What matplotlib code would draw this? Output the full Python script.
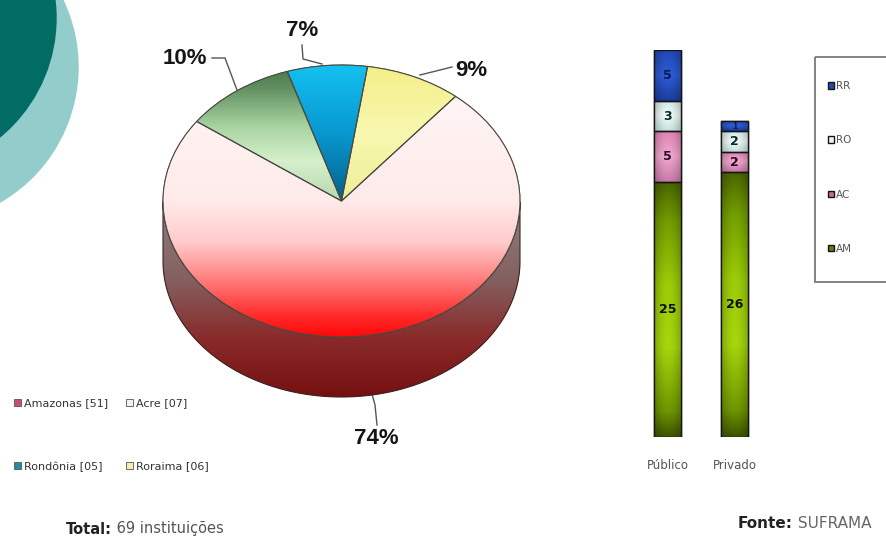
import numpy as np
import matplotlib
matplotlib.use("Agg")
import matplotlib.pyplot as plt
from matplotlib.colors import LinearSegmentedColormap
from matplotlib.patches import Circle, Rectangle, Polygon

# ---------------- data ----------------
pie_labels = ["Amazonas [51]", "Acre [07]", "Rondônia [05]", "Roraima [06]"]
pie_counts = [51, 7, 5, 6]

bar_categories = ["Público", "Privado"]
bar_series = ["AM", "AC", "RO", "RR"]
am_values = [25, 26]
ac_values = [5, 2]
ro_values = [3, 2]
rr_values = [5, 1]

total_prefix = "Total:"
total_text = "69 instituições"
source_prefix = "Fonte:"
source_text = "SUFRAMA"

# ---------------- figure ----------------
W, H = 886, 540
fig = plt.figure(figsize=(W / 100, H / 100), dpi=100)
fig.patch.set_facecolor("white")


def px_axes(left, top, width, height):
    return fig.add_axes([left / W, 1 - (top + height) / H, width / W, height / H])


def grad_image(ax, stops, extent, clip, zorder, shade=None, n=256):
    cmap = LinearSegmentedColormap.from_list("g", stops)
    col = cmap(np.linspace(1, 0, n))[:, :3]
    if shade is None:
        img = np.repeat(col[:, None, :], 2, axis=1)
    else:
        img = col[:, None, :] * shade[None, :, None]
    im = ax.imshow(np.clip(img, 0, 1), extent=extent, origin="upper",
                   aspect="auto", interpolation="bilinear", zorder=zorder)
    im.set_clip_path(clip)
    return im


# background decoration (pixel coordinates)
bg = fig.add_axes([0, 0, 1, 1])
bg.set_xlim(0, W)
bg.set_ylim(H, 0)
bg.axis("off")
bg.add_patch(Circle((-78, 67), 156, color="#93cdcb", zorder=1))
bg.add_patch(Circle((-98, 18), 154, color="#006c64", zorder=2))

# ---------------- 3D-looking pie ----------------
CX, CY, RX, RY, DEPTH_PX = 341.5, 201, 178.5, 136, 60
depth = DEPTH_PX / RY
pad = 0.1
pax = px_axes(CX - (1 + pad) * RX, CY - (1 + pad) * RY,
              2 * (1 + pad) * RX, (2 + 2 * pad + depth) * RY)

start = 50.3
base_colors = ["#c8506e", "#eef6ec", "#2a8ca4", "#f2eeb0"]
top_stops = [
    [(0, "#ff0808"), (0.075, "#ff2a2a"), (0.2, "#ff7878"), (0.35, "#ffcccc"),
     (0.5, "#ffeaea"), (1, "#fff8f8")],
    [(0, "#b8d8b0"), (0.5, "#b8d8b0"), (0.65, "#d4f0cc"), (0.775, "#a8d4a0"),
     (0.925, "#5e8c5e"), (1, "#4a784a")],
    [(0, "#06608c"), (0.5, "#06608c"), (0.75, "#0898d0"), (1, "#14c0f0")],
    [(0, "#eeee98"), (0.5, "#eeee98"), (0.75, "#f8f8b0"), (1, "#f4ee88")],
]
side_stops = [
    [(0, "#761010"), (0.3, "#8a2a2a"), (0.6, "#846060"), (1, "#8e8080")],
    [(0, "#3e5e3e"), (1, "#6e8e6e")],
    [(0, "#04405e"), (1, "#0a6a90")],
    [(0, "#9a9a50"), (1, "#c0c080")],
]

wedges, _ = pax.pie(pie_counts, colors=base_colors, startangle=start,
                    counterclock=False,
                    wedgeprops=dict(edgecolor="#555555", linewidth=0.6))

# side band of each wedge (visible lower half only)
for i, w in enumerate(wedges):
    t = np.linspace(w.theta1, w.theta2, 400)
    m = np.sin(np.radians(t)) < 0
    if not m.any():
        continue
    tt = np.radians(t[m])
    xs, ys = np.cos(tt), np.sin(tt)
    pts = np.concatenate([np.c_[xs, ys], np.c_[xs[::-1], ys[::-1] - depth]])
    poly = Polygon(pts, closed=True, facecolor=side_stops[i][0][1],
                   edgecolor="none", zorder=0.5)
    pax.add_patch(poly)
    grad_image(pax, side_stops[i], (-1, 1, -1 - depth, 0), poly, 0.6)
    pax.add_patch(Polygon(pts, closed=True, fill=False, edgecolor="#3a2626",
                          linewidth=0.8, zorder=0.7))

for i, w in enumerate(wedges):
    grad_image(pax, top_stops[i], (-1, 1, -1, 1), w, 1.5)

pax.pie(pie_counts, startangle=start, counterclock=False,
        colors=["none"] * len(pie_counts),
        wedgeprops=dict(fill=False, edgecolor="#4a4a40", linewidth=0.8, zorder=3))
pax.set_aspect("auto")
pax.set_xlim(-1 - pad, 1 + pad)
pax.set_ylim(-1 - depth - pad, 1 + pad)
pax.axis("off")

# percentage labels with leader lines (pixel coordinates)
total = sum(pie_counts)
pcts = [round(100 * c / total) for c in pie_counts]
label_pos = [(376, 439), (185, 58), (302, 30), (471, 71)]
leaders = [
    [(372, 394), (375, 405), (377, 425)],
    [(212, 58), (225, 58), (237, 90)],
    [(302, 45), (303, 59), (322, 64)],
    [(452, 67), (420, 75)],
]
for p, pos, ld in zip(pcts, label_pos, leaders):
    bg.text(pos[0], pos[1], f"{p}%", ha="center", va="center", fontsize=16,
            fontweight="bold", family="Liberation Sans", color="#151515", zorder=5)
    lx, ly = zip(*ld)
    bg.plot(lx, ly, color="#555555", linewidth=1.0, zorder=4)

order = [0, 2, 1, 3]
pleg = bg.legend([wedges[i] for i in order], [pie_labels[i] for i in order],
                 ncol=2, loc="upper left", bbox_to_anchor=(14 / W, 1 - 398 / H),
                 bbox_transform=fig.transFigure, frameon=False, fontsize=8,
                 handlelength=0.6, handleheight=0.6, handletextpad=0.3,
                 labelspacing=4.8, columnspacing=1.6, borderpad=0, borderaxespad=0)
for t in pleg.get_texts():
    t.set_color("#333333")

# ---------------- stacked bars ----------------
bax = px_axes(634, 50, 134, 387)
x = np.arange(len(bar_categories))
bw = 0.41
stacks = [am_values, ac_values, ro_values, rr_values]
bar_base = ["#5e7e10", "#c86c9a", "#eef6f6", "#2a4aaa"]
bar_stops = [
    [(0, "#3e5400"), (0.1, "#6e9600"), (0.35, "#a6d60c"), (0.6, "#9ccc08"),
     (0.85, "#729c00"), (1, "#4a6400")],
    [(0, "#c87aa8"), (0.5, "#f2a8cf"), (1, "#e184b6")],
    [(0, "#c2e2dc"), (0.5, "#f4fcfa"), (1, "#cfe9e4")],
    [(0, "#1c3c9c"), (0.5, "#2e5cd8"), (1, "#2248b4")],
]
text_cols = ["#101010", "#2a0a2a", "#0a2a2a", "#0a1a50"]
shade = 0.78 + 0.22 * np.sin(np.pi * np.linspace(0, 1, 40))

bottoms = np.zeros(len(bar_categories))
containers = []
for vals, col, stops, tc in zip(stacks, bar_base, bar_stops, text_cols):
    cont = bax.bar(x, vals, bw, bottom=bottoms, color=col, edgecolor="#151515",
                   linewidth=1.0)
    containers.append(cont)
    for patch in cont.patches:
        px0, py0 = patch.get_x(), patch.get_y()
        pw, ph = patch.get_width(), patch.get_height()
        grad_image(bax, stops, (px0, px0 + pw, py0, py0 + ph), patch, 1.5, shade=shade)
    bax.bar(x, vals, bw, bottom=bottoms, fill=False, edgecolor="#151515",
            linewidth=1.0, zorder=3)
    for xi, b, v in zip(x, bottoms, vals):
        bax.text(xi, b + v / 2, str(v), ha="center", va="center",
                 fontsize=9 if v > 1 else 5.5, fontweight="bold", color=tc, zorder=4)
    bottoms = bottoms + np.array(vals)

bax.set_xlim(-0.5, 1.5)
bax.set_ylim(0, 38)
for s in bax.spines.values():
    s.set_visible(False)
bax.set_yticks([])
bax.set_xticks(x)
bax.set_xticklabels(bar_categories, fontsize=8.5, color="#555555")
bax.tick_params(axis="x", length=0, pad=16)

bleg = bax.legend([c for c in containers[::-1]], bar_series[::-1], loc="upper left",
                  bbox_to_anchor=(828 / W, 1 - 81 / H), bbox_transform=fig.transFigure,
                  frameon=False, fontsize=7.5, handlelength=0.6, handleheight=0.6,
                  handletextpad=0.2, labelspacing=4.25, borderpad=0, borderaxespad=0)
for t in bleg.get_texts():
    t.set_color("#555555")
bg.add_patch(Rectangle((815, 57), 90, 225, fill=False, edgecolor="#7a7a7a",
                       linewidth=1.3, zorder=3))

# ---------------- footer texts ----------------
t1 = bg.text(66, 529, total_prefix, fontsize=10.5, fontweight="bold", color="#222222",
             va="center", ha="left")
bg.annotate(" " + total_text, xy=(1, 0.5), xycoords=t1, va="center", ha="left",
            fontsize=10.5, color="#555555")
t2 = bg.text(738, 523, source_prefix, fontsize=11, fontweight="bold", color="#222222",
             va="center", ha="left")
bg.annotate(" " + source_text, xy=(1, 0.5), xycoords=t2, va="center", ha="left",
            fontsize=11, color="#666666")

fig.savefig("out.png", dpi=100, facecolor="white")
